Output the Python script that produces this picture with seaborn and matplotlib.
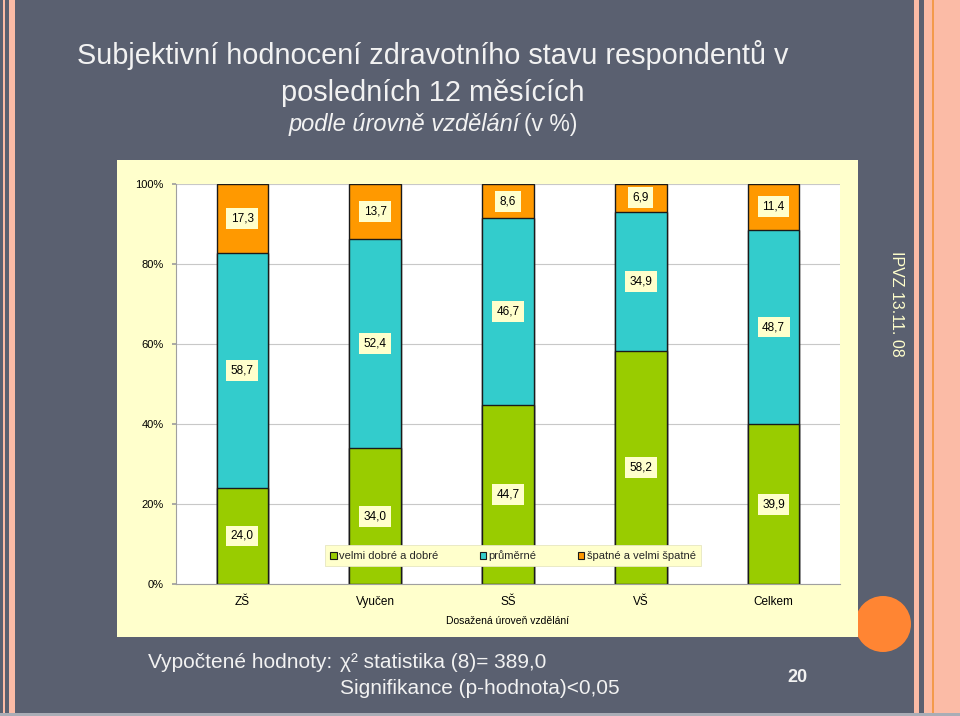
import pandas as pd
import seaborn as sns
import matplotlib.pyplot as plt
from matplotlib.patches import Rectangle, Ellipse, Patch

# -------------------------------
# Data (values in %)
# -------------------------------
categories = ["ZŠ", "Vyučen", "SŠ", "VŠ", "Celkem"]
velmi_dobre = [24.0, 34.0, 44.7, 58.2, 39.9]
prumerne = [58.7, 52.4, 46.7, 34.9, 48.7]
spatne = [17.3, 13.7, 8.6, 6.9, 11.4]
series_names = ["velmi dobré a dobré", "průměrné", "špatné a velmi špatné"]
y_ticks = [0, 20, 40, 60, 80, 100]

GREEN = "#99CC00"
CYAN = "#33CCCC"
ORANGE = "#FF9900"
BG = "#5A6070"
PANEL = "#FFFFCC"
PINK = "#FBBBA6"
TEXT = "#F2F2F2"

sns.set_theme(style="white")
plt.rcParams['font.family'] = ['Liberation Sans', 'DejaVu Sans']

W, H = 960, 716


def fx(x):
    return x / W


def fy(y):
    return 1 - y / H


# 100% stacked -> normalise each column
df = pd.DataFrame({"kategorie": categories, "dobre": velmi_dobre,
                   "prumerne": prumerne, "spatne": spatne})
tot = df[["dobre", "prumerne", "spatne"]].sum(axis=1)
df["c1"] = df["dobre"] / tot * 100
df["c2"] = (df["dobre"] + df["prumerne"]) / tot * 100
df["c3"] = 100.0

fig = plt.figure(figsize=(W / 100, H / 100), dpi=100)
fig.patch.set_facecolor(BG)

# -------------------------------
# Slide decoration
# -------------------------------
def band(x0, x1, color, z=-5):
    fig.add_artist(Rectangle((fx(x0), 0), fx(x1 - x0), 1, transform=fig.transFigure,
                             facecolor=color, edgecolor="none", zorder=z))

band(3, 5, PINK)
band(9, 15, PINK)
band(914, 919, PINK)
band(924, 960, PINK)
band(932, 934, "#F39A4C", z=-4)
fig.add_artist(Rectangle((0, 0), 1, fy(713), transform=fig.transFigure,
                         facecolor="#A9ADB6", edgecolor="none", zorder=-4))

# orange circle partly hidden behind the chart panel
fig.add_artist(Ellipse((fx(883), fy(624)), 56 / W, 56 / H, transform=fig.transFigure,
                       facecolor="#FF8533", edgecolor="none", zorder=-3))
# chart panel
fig.add_artist(Rectangle((fx(117), fy(637)), fx(858 - 117), (637 - 160) / H,
                         transform=fig.transFigure, facecolor=PANEL,
                         edgecolor="none", zorder=-2))

# -------------------------------
# Chart
# -------------------------------
ax = fig.add_axes([fx(176), fy(584), fx(840 - 176), 400 / H])
ax.set_facecolor("white")

for col, color in [("c3", ORANGE), ("c2", CYAN), ("c1", GREEN)]:
    sns.barplot(data=df, x="kategorie", y=col, color=color, saturation=1,
                width=0.39, edgecolor="#1A1A1A", linewidth=1.0, ax=ax, zorder=2)

# segment labels
for i, row in df.iterrows():
    segs = [(0, row["c1"], row["dobre"]),
            (row["c1"], row["c2"], row["prumerne"]),
            (row["c2"], row["c3"], row["spatne"])]
    for lo, hi, v in segs:
        ax.text(i, (lo + hi) / 2, f"{v:.1f}".replace(".", ","), ha="center", va="center",
                fontsize=8.5, color="black", zorder=5,
                bbox=dict(facecolor=PANEL, edgecolor="none", pad=3.2))

ax.set_ylim(0, 100)
ax.set_xlim(-0.5, 4.5)
ax.set_yticks(y_ticks)
ax.set_yticklabels([f"{t}%" for t in y_ticks], fontsize=8, color="black")
ax.set_xticks(range(len(categories)))
ax.set_xticklabels(categories, fontsize=8.5, color="black")
ax.set_xticks([0.5, 1.5, 2.5, 3.5], minor=True)
ax.tick_params(axis="x", which="major", length=0, pad=8.5)
ax.tick_params(axis="x", which="minor", length=3, color="#A0A0A0", direction="out")
ax.tick_params(axis="y", length=3, color="#A0A0A0", pad=6, left=True)
ax.grid(axis="y", color="#C8C8C8", linewidth=0.8)
ax.set_axisbelow(True)
for s in ["top", "right"]:
    ax.spines[s].set_visible(False)
for s in ["left", "bottom"]:
    ax.spines[s].set_color("#A0A0A0")
    ax.spines[s].set_linewidth(0.8)
ax.set_ylabel("")
ax.set_xlabel("Dosažená úroveň vzdělání", fontsize=7.5, color="black", labelpad=6)

handles = [Patch(facecolor=c, edgecolor="#1A1A1A", linewidth=0.8)
           for c in [GREEN, CYAN, ORANGE]]
leg = ax.legend(handles, series_names, ncol=3, loc="center",
                bbox_to_anchor=(0.5075, 0.071), fontsize=8, frameon=True,
                fancybox=False, framealpha=1, facecolor=PANEL, edgecolor="#E6E6C0",
                handlelength=0.6, handleheight=0.6, handletextpad=0.2,
                columnspacing=3.7, borderpad=0.45)
leg.get_frame().set_linewidth(0.6)
leg.set_zorder(6)

# -------------------------------
# Slide texts
# -------------------------------
fig.text(fx(433), fy(55), "Subjektivní hodnocení zdravotního stavu respondentů v",
         ha="center", va="center", fontsize=20.8, color=TEXT)
fig.text(fx(433), fy(93), "posledních 12 měsících",
         ha="center", va="center", fontsize=20.8, color=TEXT)
fig.text(fx(289), fy(125), "podle úrovně vzdělání", ha="left", va="center",
         fontsize=17, style="italic", color=TEXT)
fig.text(fx(577), fy(125), "(v %)", ha="right", va="center", fontsize=16.5, color=TEXT)

fig.text(fx(148), fy(662), "Vypočtené hodnoty:", ha="left", va="center",
         fontsize=15, color=TEXT)
fig.text(fx(340), fy(662), "χ² statistika (8)= 389,0", ha="left", va="center",
         fontsize=15, color=TEXT)
fig.text(fx(340), fy(688), "Signifikance (p-hodnota)<0,05", ha="left", va="center",
         fontsize=15, color=TEXT)
fig.text(fx(797), fy(677), "20", ha="center", va="center", fontsize=13,
         fontweight="bold", color=TEXT)
fig.text(fx(897), fy(304), "IPVZ 13.11. 08", ha="center", va="center", rotation=270,
         fontsize=11.5, color="#FFFFCC")

fig.savefig("out.png", dpi=100, facecolor=fig.get_facecolor())
